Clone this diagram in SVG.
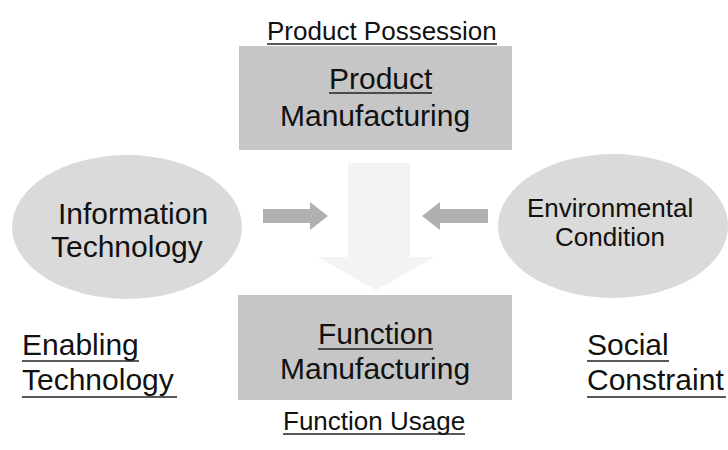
<svg xmlns="http://www.w3.org/2000/svg" width="728" height="450" viewBox="0 0 728 450">
<style>
.t{font-family:"Liberation Sans",Arial,sans-serif;fill:#111;}
.l{font-size:30px;}
.m{font-size:26px;}
.box{fill:#c6c6c6;}
.ell{fill:#dadada;}
.ul{stroke:#222;stroke-width:1.3;}
.arr{fill:#b0b0b0;}
.faint{fill:#f3f3f3;}
</style>
<rect width="728" height="450" fill="#fff"/>
<g id="connectors">
  <path class="faint" d="M348,163 H410 V257 H435 L376,290 L318,257 H348 Z"/>
  <path class="arr" d="M263,209 H310 V202 L328,216 L310,230 V223 H263 Z"/>
  <path class="arr" d="M488,209 H440 V202 L422,216 L440,230 V223 H488 Z"/>
</g>
<g id="product-possession">
  <text class="t m" x="267" y="40">Product Possession</text>
  <line class="ul" x1="267" y1="44" x2="497" y2="44"/>
</g>
<g id="product-manufacturing">
  <rect class="box" x="239" y="46" width="273" height="104"/>
  <text class="t l" x="329" y="89">Product</text>
  <line class="ul" x1="329" y1="93" x2="432" y2="93"/>
  <text class="t l" x="280" y="126">Manufacturing</text>
</g>
<g id="information-technology">
  <ellipse class="ell" cx="127" cy="227" rx="115" ry="72"/>
  <text class="t l" x="58" y="224">Information</text>
  <text class="t l" x="51" y="257">Technology</text>
</g>
<g id="environmental-condition">
  <ellipse class="ell" cx="613" cy="226" rx="115" ry="72"/>
  <text class="t m" x="527" y="217">Environmental</text>
  <text class="t m" x="555" y="246">Condition</text>
</g>
<g id="function-manufacturing">
  <rect class="box" x="238" y="295" width="274" height="105"/>
  <text class="t l" x="318" y="344">Function</text>
  <line class="ul" x1="318" y1="349" x2="433" y2="349"/>
  <text class="t l" x="280" y="379">Manufacturing</text>
</g>
<g id="function-usage">
  <text class="t m" x="283" y="430">Function Usage</text>
  <line class="ul" x1="283" y1="434" x2="465" y2="434"/>
</g>
<g id="enabling-technology">
  <text class="t l" x="22" y="355">Enabling</text>
  <line class="ul" x1="22" y1="361" x2="139" y2="361"/>
  <text class="t l" x="22" y="390">Technology</text>
  <line class="ul" x1="22" y1="397" x2="177" y2="397"/>
</g>
<g id="social-constraint">
  <text class="t l" x="587" y="355">Social</text>
  <line class="ul" x1="587" y1="361" x2="669" y2="361"/>
  <text class="t l" x="587" y="390">Constraint</text>
  <line class="ul" x1="587" y1="397" x2="726" y2="397"/>
</g>
</svg>
